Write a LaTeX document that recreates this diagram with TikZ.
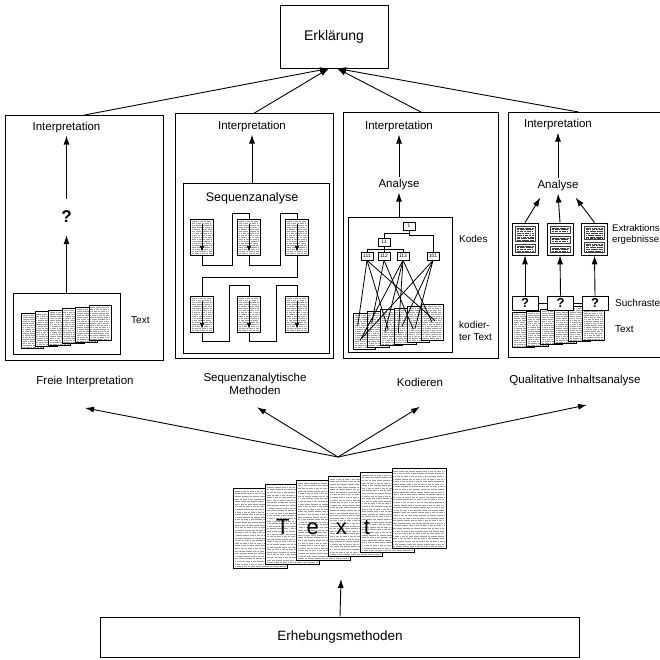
\documentclass[tikz,border=0pt]{standalone}
\usepackage{fontspec}
\setmainfont{Liberation Sans}
\usetikzlibrary{arrows.meta, positioning, calc}
\definecolor{textGray}{gray}{0.62}
\definecolor{darkGray}{gray}{0.25}
\newcommand{\zeilen}[2]{%
  \foreach \k [evaluate=\k as \ph using {mod(\k*23,97)/10}] in {1,...,40}
    \draw[#2, line width=0.3pt, dash pattern=on 2.5pt off 0.8pt on 4pt off 0.8pt on 1.5pt off 0.8pt on 3pt off 0.8pt, dash phase=\ph pt]
      ([xshift=1.5pt, yshift={-\k*#1}]path picture bounding box.north west) -- ([xshift=-1.5pt, yshift={-\k*#1}]path picture bounding box.north east);}

\begin{document}
\begin{tikzpicture}[x=1pt, y=-1pt,
    box/.style={draw, line width=0.9pt, inner sep=0pt},
    arrow/.style={-{Latex[length=9pt, width=6pt]}, line width=0.9pt},
    smallArrow/.style={-{Latex[length=6pt, width=4.5pt]}, line width=0.9pt},
    caption/.style={font=\fontsize{11.5}{13}\selectfont, align=center},
    side/.style={font=\fontsize{10}{11.5}\selectfont, align=left, inner sep=0pt, anchor=west},
    head/.style={font=\fontsize{11.5}{13}\selectfont, inner sep=2pt},
    page/.style={draw, fill=white, line width=0.6pt, inner sep=0pt, path picture={\zeilen{#1}{textGray}}},
    page/.default=2pt,
    extract/.style={draw=darkGray, fill=white, line width=1pt, inner sep=0pt, minimum width=20pt, path picture={\zeilen{1.8pt}{darkGray}}},
    code/.style={draw, fill=white, line width=0.6pt, inner sep=0.5pt, minimum width=12pt, minimum height=8pt, font=\fontsize{5}{5}\selectfont},
    query/.style={draw, fill=white, line width=1pt, inner sep=0pt, minimum width=26pt, minimum height=14pt, font=\bfseries\fontsize{13}{13}\selectfont}]
    \useasboundingbox (0,0) rectangle (660,659);

    \node[box, minimum width=108pt, minimum height=63pt, font=\fontsize{14}{16}\selectfont] (ER) at (334,36.5) {Erklärung};

    \node[box, minimum width=158pt, minimum height=245pt, anchor=north west] (P-1) at (5,115) {};
    \node[box, minimum width=158pt, minimum height=245pt, anchor=north west] (P-2) at (175,113) {};
    \node[box, minimum width=155pt, minimum height=246pt, anchor=north west] (P-3) at (343,112) {};
    \node[box, minimum width=154pt, minimum height=245pt, anchor=north west] (P-4) at (508,112) {};

    \draw[arrow] (P-1.north) -- ([xshift=-5pt]ER.south);
    \draw[arrow] (P-2.north) -- ([xshift=-5pt]ER.south);
    \draw[arrow] (P-3.north) -- ([xshift=3pt]ER.south);
    \draw[arrow] ([xshift=-7pt]P-4.north) -- ([xshift=3pt]ER.south);

    % freie Interpretation
    \node[head] (H-1) at (66.5,128) {Interpretation};
    \node[font=\bfseries\fontsize{17}{17}\selectfont, minimum height=36pt] (QM) at (66.5,217) {?};
    \node[box, minimum width=107pt, minimum height=61pt] (I-1) at (66.5,323.5) {};
    \foreach \i in {0,...,5}
        \node[page, minimum width=22pt, minimum height=35pt, anchor=north west] (S-1-\i) at ({21+\i*13.5},{313-\i*1.6}) {};
    \node[side] (T-1) at (131,320) {Text};
    \draw[arrow] (I-1.north) -- (QM.south);
    \draw[arrow] (QM.north) -- (H-1.south);

    % Sequenzanalyse
    \node[head] (H-2) at (252,127) {Interpretation};
    \node[box, minimum width=146pt, minimum height=170pt] (SQ) at (256,268) {};
    \draw[arrow] (H-2 |- SQ.north) -- (H-2.south);
    \node[font=\fontsize{12.5}{14}\selectfont] (SA) at (252,198) {Sequenzanalyse};
    \foreach \x/\y [count=\n] in {202/237.5, 249/237.5, 297/237.5, 202/314.5, 249/314.5, 297/314.5} {
        \node[page, minimum width=23pt, minimum height=36pt] (Q-\n) at (\x,\y) {};
        \draw[smallArrow] ([yshift=-5pt]Q-\n.north) -- ([yshift=4pt]Q-\n.south);
    }
    \draw[line width=0.8pt] (Q-1.south) -- ++(0,10) -| ++(30,-52) -| (Q-2.north);
    \draw[line width=0.8pt] (Q-2.south) -- ++(0,10) -| ++(31,-52) -| (Q-3.north);
    \draw[line width=0.8pt] (Q-3.south) -- ++(0,22) -| (Q-4.north);
    \draw[line width=0.8pt] (Q-4.south) -- ++(0,9) -| ++(27,-56) -| (Q-5.north);
    \draw[line width=0.8pt] (Q-5.south) -- ++(0,9) -| ++(27,-56) -| (Q-6.north);

    % Kodieren
    \node[head] (H-3) at (399,127) {Interpretation};
    \node[head] (A-3) at (399,185) {Analyse};
    \node[box, minimum width=104pt, minimum height=135pt] (I-3) at (400,284.5) {};
    \draw[arrow] (A-3 |- I-3.north) -- (A-3.south);
    \draw[arrow] (A-3.north) -- (H-3.south);
    \foreach \i in {0,...,5}
        \node[page, minimum width=22pt, minimum height=36pt, anchor=north west] (S-3-\i) at ({353+\i*13.5},{313-\i*1.8}) {};
    \node[code] (K-1) at (409,226) {1};
    \node[code] (K-11) at (384,242) {11};
    \node[code] (K-111) at (367,256) {111};
    \node[code] (K-112) at (384,256) {112};
    \node[code] (K-113) at (403,256) {113};
    \node[code] (K-101) at (433,256) {101};
    \draw[line width=0.6pt] (K-1.south) -- ++(0,3) -| (K-11.north);
    \draw[line width=0.6pt] (K-1.south) -- ++(0,5) -| (K-101.north);
    \foreach \c in {111,112,113}
        \draw[line width=0.6pt] (K-11.south) -- ++(0,3) -| (K-\c.north);
    \foreach \x/\y [count=\n] in {357.7/326, 388.3/330, 435/320.7, 371.7/323.3, 413.3/329.3, 360/340.7, 385/331.7, 398.3/333.3, 431.7/321.7, 361.7/338.3, 401.7/326.7, 415/328.3}
        \coordinate (E-\n) at (\x,\y);
    \foreach \c/\n in {111/1, 111/2, 111/3, 112/4, 112/5, 113/6, 113/7, 113/8, 113/9, 101/10, 101/11, 101/12}
        \draw[line width=0.8pt] (K-\c.south) -- (E-\n);
    \node[side] (KO) at (459,239) {Kodes};
    \node[side] (KT) at (459,331) {kodier-\\ter Text};

    % Qualitative Inhaltsanalyse
    \node[head] (H-4) at (558,125) {Interpretation};
    \node[head] (A-4) at (558,186) {Analyse};
    \draw[arrow] (A-4.north) -- (H-4.south);
    \foreach \i in {0,...,5}
        \node[page, minimum width=22pt, minimum height=35pt, anchor=north west] (S-4-\i) at ({512+\i*14},{312-\i*1.5}) {};
    \foreach \x [count=\n] in {525, 560.5, 595}
        \node[query] (F-\n) at (\x,303) {?};
    \draw[line width=0.8pt] (F-1.east) -- (F-2.west);
    \draw[line width=0.8pt] (F-2.east) -- (F-3.west);
    \foreach \x [count=\n] in {525, 560, 594.5}
        \node[draw, fill=white, line width=0.8pt, minimum width=26pt, minimum height=32pt, inner sep=0pt] (X-\n) at (\x,239) {};
    \node[extract, minimum height=15pt] (X-1-a) at (525,233.5) {};
    \node[extract, minimum height=8pt] (X-1-b) at (525,248) {};
    \node[extract, minimum height=7pt] (X-2-a) at (560,229.5) {};
    \node[extract, minimum height=7pt] (X-2-b) at (560,239.5) {};
    \node[extract, minimum height=6pt] (X-2-c) at (560,249) {};
    \node[extract, minimum height=13pt] (X-3-a) at (594.5,232.5) {};
    \node[extract, minimum height=10pt] (X-3-b) at (594.5,247) {};
    \foreach \n in {1,2,3}
        \draw[arrow] (F-\n.north) -- (X-\n.south);
    \draw[arrow] (X-1.north) -- ([xshift=5pt, yshift=-4pt]A-4.south west);
    \draw[arrow] (X-2.north) -- (A-4.south);
    \draw[arrow] (X-3.north) -- ([xshift=-5pt, yshift=-4pt]A-4.south east);
    \node[side, font=\fontsize{9.6}{11}\selectfont] (XL) at (612,235) {Extraktions\\ergebnisse};
    \node[side] (SR) at (615,303) {Suchraste};
    \node[side] (T-4) at (615,329) {Text};

    % Methoden
    \node[caption] (L-1) at (85,382) {Freie Interpretation};
    \node[caption] (L-2) at (255,384) {Sequenzanalytische\\Methoden};
    \node[caption] (L-3) at (420,382) {Kodieren};
    \node[caption] (L-4) at (575,381) {Qualitative Inhaltsanalyse};
    \coordinate (M) at (338,457);
    \draw[arrow] (M) -- ([yshift=-17pt]L-1.south);
    \draw[arrow] (M) -- ([xshift=2pt, yshift=-9pt]L-2.south);
    \draw[arrow] (M) -- ([yshift=-17pt]L-3.south);
    \draw[arrow] (M) -- ([xshift=12pt, yshift=-15pt]L-4.south);

    % Text
    \foreach \i in {0,...,5}
        \node[page=2.6pt, minimum width=54pt, minimum height=80pt, anchor=north west] (B-\i) at ({233+\i*31.7},{488-\i*4}) {};
    \node[font=\fontsize{22}{22}\selectfont, inner sep=0pt, anchor=west] (BT) at (276,527) {T\hspace{17pt}e\hspace{17pt}x\hspace{17pt}t};
    \coordinate (SF) at (341,579);

    \node[box, minimum width=479pt, minimum height=40pt, font=\fontsize{13.5}{15}\selectfont] (U) at (340,637) {Erhebungsmethoden};
    \draw[arrow] (U.north) -- (SF);
\end{tikzpicture}
\end{document}
